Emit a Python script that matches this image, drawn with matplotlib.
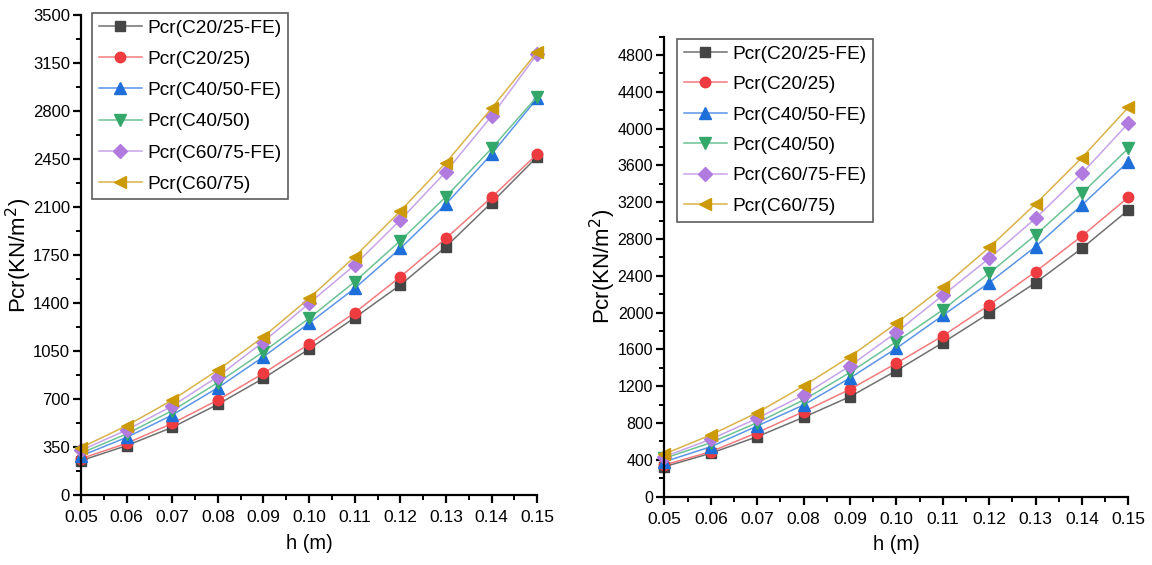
import matplotlib
matplotlib.use("Agg")
import matplotlib.pyplot as plt
from matplotlib.ticker import MultipleLocator, FormatStrFormatter

plt.rcParams['font.family'] = ['Liberation Sans', 'DejaVu Sans']

h = [0.05, 0.06, 0.07, 0.08, 0.09, 0.10, 0.11, 0.12, 0.13, 0.14, 0.15]

labels = ["Pcr(C20/25-FE)", "Pcr(C20/25)", "Pcr(C40/50-FE)",
          "Pcr(C40/50)", "Pcr(C60/75-FE)", "Pcr(C60/75)"]

# Left panel
left_c20_fe = [250, 360, 493, 661, 851, 1064, 1293, 1531, 1810, 2131, 2466]
left_c20 = [265, 377, 522, 692, 887, 1101, 1329, 1591, 1871, 2170, 2486]
left_c40_fe = [285, 420, 583, 782, 1008, 1252, 1507, 1798, 2121, 2486, 2892]
left_c40 = [305, 445, 615, 819, 1045, 1288, 1555, 1854, 2175, 2527, 2905]
left_c60_fe = [325, 474, 649, 863, 1118, 1397, 1677, 2005, 2357, 2763, 3215]
left_c60 = [345, 505, 692, 911, 1154, 1434, 1737, 2070, 2423, 2819, 3231]
left_yticks = [0, 350, 700, 1050, 1400, 1750, 2100, 2450, 2800, 3150, 3500]

# Right panel
right_c20_fe = [326, 472, 652, 863, 1087, 1370, 1674, 1994, 2326, 2700, 3116]
right_c20 = [345, 489, 696, 924, 1167, 1450, 1747, 2084, 2446, 2834, 3254]
right_c40_fe = [380, 543, 768, 997, 1290, 1613, 1970, 2326, 2718, 3171, 3642]
right_c40 = [417, 587, 804, 1051, 1350, 1685, 2030, 2428, 2845, 3298, 3787]
right_c60_fe = [435, 624, 852, 1105, 1421, 1787, 2188, 2591, 3026, 3515, 4059]
right_c60 = [464, 671, 913, 1203, 1522, 1885, 2276, 2709, 3182, 3685, 4233]
right_yticks = [0, 400, 800, 1200, 1600, 2000, 2400, 2800, 3200, 3600, 4000, 4400, 4800]

marker_colors = ["#454545", "#EE3B3F", "#1F6FDB", "#34A86A", "#B07ADE", "#CC9A06"]
line_colors = ["#707070", "#F27A7C", "#5A95E6", "#6CC294", "#C7A3EA", "#D9B24A"]
markers = ["s", "o", "^", "v", "D", "<"]
msizes = [7, 7.5, 9, 9, 7, 9]

fig = plt.figure(figsize=(11.52, 5.65), dpi=100)
ax1 = fig.add_axes([0.0703, 0.1239, 0.396, 0.8496])
ax2 = fig.add_axes([0.5767, 0.1209, 0.4028, 0.8142])


def draw(ax, series, ymax, yticks, ytick_size, legend_anchor, ylabel_x, spacing):
    for vals, lab, mc, lc, mk, ms in zip(series, labels, marker_colors,
                                         line_colors, markers, msizes):
        ax.plot(h, vals, color=lc, lw=1.1, marker=mk, markersize=ms,
                markerfacecolor=mc, markeredgecolor=mc, label=lab,
                clip_on=False)
    ax.set_xlim(0.05, 0.15)
    ax.set_ylim(0, ymax)
    ax.xaxis.set_major_locator(MultipleLocator(0.01))
    ax.xaxis.set_minor_locator(MultipleLocator(0.005))
    ax.xaxis.set_major_formatter(FormatStrFormatter('%.2f'))
    ax.set_yticks(yticks)
    step = yticks[1] - yticks[0]
    ax.yaxis.set_minor_locator(MultipleLocator(step / 2))
    for side in ("top", "right"):
        ax.spines[side].set_visible(False)
    for side in ("left", "bottom"):
        ax.spines[side].set_linewidth(1.6)
    ax.tick_params(which="major", direction="out", length=6, width=1.6)
    ax.tick_params(which="minor", direction="out", length=3.5, width=1.4)
    ax.tick_params(axis="x", which="major", pad=5, labelsize=12.5)
    ax.tick_params(axis="y", which="major", pad=2, labelsize=ytick_size)
    ax.set_xlabel("h (m)", fontsize=14.5, labelpad=6)
    ax.set_ylabel("Pcr(KN/m$^{2}$)", fontsize=16)
    ax.yaxis.set_label_coords(ylabel_x, 0.5)
    leg = ax.legend(loc="upper left", bbox_to_anchor=legend_anchor,
                    fontsize=13.8, frameon=True, fancybox=False,
                    handlelength=2.25, handletextpad=0.3, labelspacing=spacing,
                    borderpad=0.35, borderaxespad=0)
    leg.get_frame().set_edgecolor("#333333")
    leg.get_frame().set_linewidth(1.2)


draw(ax1, [left_c20_fe, left_c20, left_c40_fe, left_c40, left_c60_fe, left_c60],
     3500, left_yticks, 12, (0.024, 1.005), -0.104, 0.72)
draw(ax2, [right_c20_fe, right_c20, right_c40_fe, right_c40, right_c60_fe, right_c60],
     5000, right_yticks, 11.5, (0.027, 0.996), -0.1, 0.68)

fig.savefig("out.png", dpi=100)
